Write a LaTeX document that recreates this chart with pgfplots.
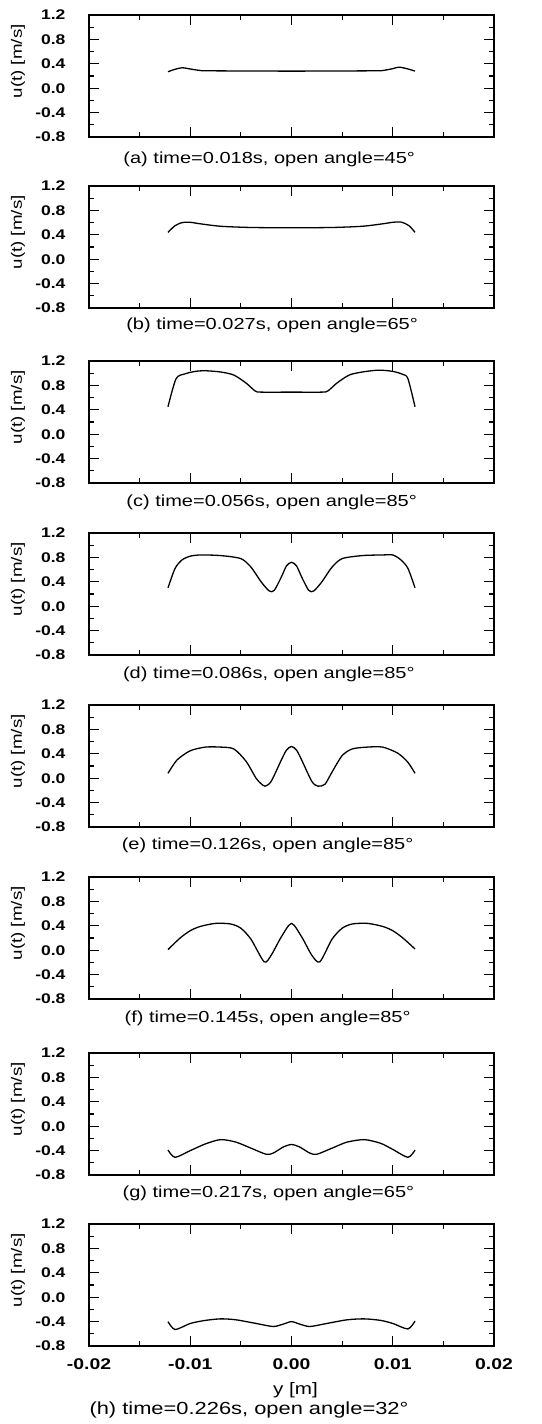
\documentclass[border=0pt]{standalone}
\usepackage{fontspec}
\setmainfont{Liberation Sans}[FakeStretch=1.25]
\usepackage{pgfplots}
\pgfplotsset{compat=1.18}

\pgfplotsset{
  panel/.style={
    scale only axis, width=405pt, height=122pt, anchor=north west, clip=false,
    xmin=-0.02, xmax=0.02, ymin=-0.8, ymax=1.2,
    xtick={-0.02,-0.01,0,0.01,0.02}, minor x tick num=1,
    ytick={-0.8,-0.4,0,0.4,0.8,1.2}, minor y tick num=1,
    scaled x ticks=false, scaled y ticks=false,
    major tick length=10pt, minor tick length=5pt,
    tick style={line width=1.1pt, black},
    axis line style={line width=1.3pt},
    xticklabels={},
    yticklabel style={font=\fontsize{14}{16}\selectfont\bfseries, xshift=-20pt,
      /pgf/number format/.cd, fixed, fixed zerofill, precision=1, assume math mode=true},
    ylabel={u(t) [m/s]},
    every axis y label/.style={at={(axis description cs:-0.1753,0.62)}, rotate=90,
      anchor=center, font=\fontsize{15}{17}\selectfont},
    every axis plot post/.append style={black, line width=1.3pt, mark=none, smooth, tension=0.45},
  },
}
\tikzset{captext/.style={font=\fontsize{16}{18}\selectfont, anchor=center}}

\begin{document}
\begin{tikzpicture}
\path[use as bounding box] (0,0) rectangle (541pt,-1424pt);

% (a)
\begin{axis}[panel, at={(89pt,-15pt)}]
\addplot coordinates {(-0.0122,0.27) (-0.0115,0.31) (-0.0108,0.335) (-0.0100,0.315) (-0.0090,0.29) (-0.0080,0.285) (0,0.28) (0.0080,0.285) (0.0090,0.29) (0.0100,0.32) (0.0106,0.345) (0.0114,0.32) (0.0122,0.28)};
\node[captext, yshift=-22pt] at (rel axis cs:0.445,0) {(a) time=0.018s, open angle=45°};
\end{axis}

% (b)
\begin{axis}[panel, at={(89pt,-186pt)}]
\addplot coordinates {(-0.0122,0.44) (-0.0115,0.55) (-0.0108,0.60) (-0.0100,0.605) (-0.0090,0.58) (-0.0070,0.54) (-0.0040,0.52) (0,0.515) (0.0040,0.52) (0.0070,0.54) (0.0090,0.58) (0.0100,0.605) (0.0108,0.61) (0.0116,0.55) (0.0122,0.44)};
\node[captext, yshift=-17pt] at (rel axis cs:0.452,0) {(b) time=0.027s, open angle=65°};
\end{axis}

% (c)
\begin{axis}[panel, at={(89pt,-361pt)}]
\addplot coordinates {(-0.0122,0.45) (-0.0114,0.91) (-0.0105,0.99) (-0.0095,1.03) (-0.0085,1.04) (-0.0070,1.02) (-0.0057,0.97) (-0.0045,0.84) (-0.0036,0.71) (-0.0030,0.69) (0,0.69) (0.0030,0.69) (0.0036,0.71) (0.0045,0.84) (0.0057,0.97) (0.0070,1.02) (0.0086,1.05) (0.0100,1.03) (0.0110,0.98) (0.0115,0.91) (0.0122,0.45)};
\node[captext, yshift=-19pt] at (rel axis cs:0.451,0) {(c) time=0.056s, open angle=85°};
\end{axis}

% (d)
\begin{axis}[panel, at={(89pt,-533pt)}]
\addplot coordinates {(-0.0122,0.30) (-0.0115,0.62) (-0.0108,0.76) (-0.0100,0.82) (-0.0090,0.84) (-0.0070,0.83) (-0.0050,0.78) (-0.0040,0.64) (-0.0030,0.40) (-0.0022,0.25) (-0.0017,0.26) (-0.0010,0.48) (-0.0005,0.66) (0,0.72) (0.0005,0.66) (0.0010,0.48) (0.0017,0.26) (0.0022,0.25) (0.0030,0.40) (0.0040,0.64) (0.0050,0.78) (0.0070,0.83) (0.0090,0.84) (0.0100,0.84) (0.0108,0.76) (0.0115,0.62) (0.0122,0.30)};
\node[captext, yshift=-19pt] at (rel axis cs:0.444,0) {(d) time=0.086s, open angle=85°};
\end{axis}

% (e)
\begin{axis}[panel, at={(89pt,-705pt)}]
\addplot coordinates {(-0.0122,0.08) (-0.0113,0.30) (-0.0100,0.45) (-0.0085,0.51) (-0.0070,0.51) (-0.0057,0.48) (-0.0045,0.28) (-0.0035,0.00) (-0.0030,-0.09) (-0.0026,-0.13) (-0.0020,-0.05) (-0.0010,0.30) (-0.0005,0.46) (0,0.52) (0.0005,0.46) (0.0010,0.30) (0.0020,-0.05) (0.0026,-0.13) (0.0033,-0.10) (0.0040,0.10) (0.0050,0.37) (0.0060,0.48) (0.0075,0.51) (0.0090,0.51) (0.0105,0.41) (0.0115,0.26) (0.0122,0.08)};
\node[captext, yshift=-18pt] at (rel axis cs:0.441,0) {(e) time=0.126s, open angle=85°};
\end{axis}

% (f)
\begin{axis}[panel, at={(89pt,-877pt)}]
\addplot coordinates {(-0.0122,0.01) (-0.0110,0.20) (-0.0100,0.32) (-0.0090,0.39) (-0.0075,0.44) (-0.0060,0.43) (-0.0050,0.36) (-0.0040,0.18) (-0.0027,-0.19) (-0.0020,-0.08) (-0.0010,0.22) (0,0.44) (0.0010,0.22) (0.0020,-0.08) (0.0028,-0.19) (0.0040,0.18) (0.0050,0.36) (0.0060,0.43) (0.0075,0.44) (0.0090,0.39) (0.0100,0.32) (0.0110,0.20) (0.0122,0.02)};
\node[captext, yshift=-19pt] at (rel axis cs:0.441,0) {(f) time=0.145s, open angle=85°};
\end{axis}

% (g)
\begin{axis}[panel, at={(89pt,-1053pt)}]
\addplot coordinates {(-0.0122,-0.39) (-0.0115,-0.51) (-0.0100,-0.40) (-0.0085,-0.29) (-0.0070,-0.22) (-0.0055,-0.26) (-0.0040,-0.36) (-0.0025,-0.46) (-0.0018,-0.44) (-0.0008,-0.34) (0,-0.30) (0.0008,-0.34) (0.0018,-0.44) (0.0025,-0.46) (0.0040,-0.36) (0.0055,-0.26) (0.0072,-0.22) (0.0088,-0.28) (0.0100,-0.38) (0.0115,-0.51) (0.0122,-0.39)};
\node[captext, yshift=-18pt] at (rel axis cs:0.443,0) {(g) time=0.217s, open angle=65°};
\end{axis}

% (h)
\begin{axis}[panel, at={(89pt,-1224pt)},
  xticklabels={-0.02,-0.01,0.00,0.01,0.02},
  xticklabel style={font=\fontsize{15.5}{17}\selectfont\bfseries, yshift=-9pt},
  xlabel={y [m]},
  every axis x label/.style={at={(axis description cs:0.51,0)}, yshift=-44pt,
    anchor=center, font=\fontsize{16.5}{18}\selectfont}]
\addplot coordinates {(-0.0122,-0.40) (-0.0115,-0.53) (-0.0100,-0.43) (-0.0085,-0.38) (-0.0070,-0.355) (-0.0055,-0.37) (-0.0035,-0.43) (-0.0018,-0.48) (-0.0008,-0.44) (0,-0.40) (0.0008,-0.44) (0.0018,-0.48) (0.0035,-0.43) (0.0055,-0.37) (0.0072,-0.355) (0.0088,-0.38) (0.0100,-0.43) (0.0115,-0.52) (0.0122,-0.39)};
\node[captext, font=\fontsize{17.5}{19}\selectfont, yshift=-64pt] at (rel axis cs:0.395,0) {(h) time=0.226s, open angle=32°};
\end{axis}
\end{tikzpicture}
\end{document}
